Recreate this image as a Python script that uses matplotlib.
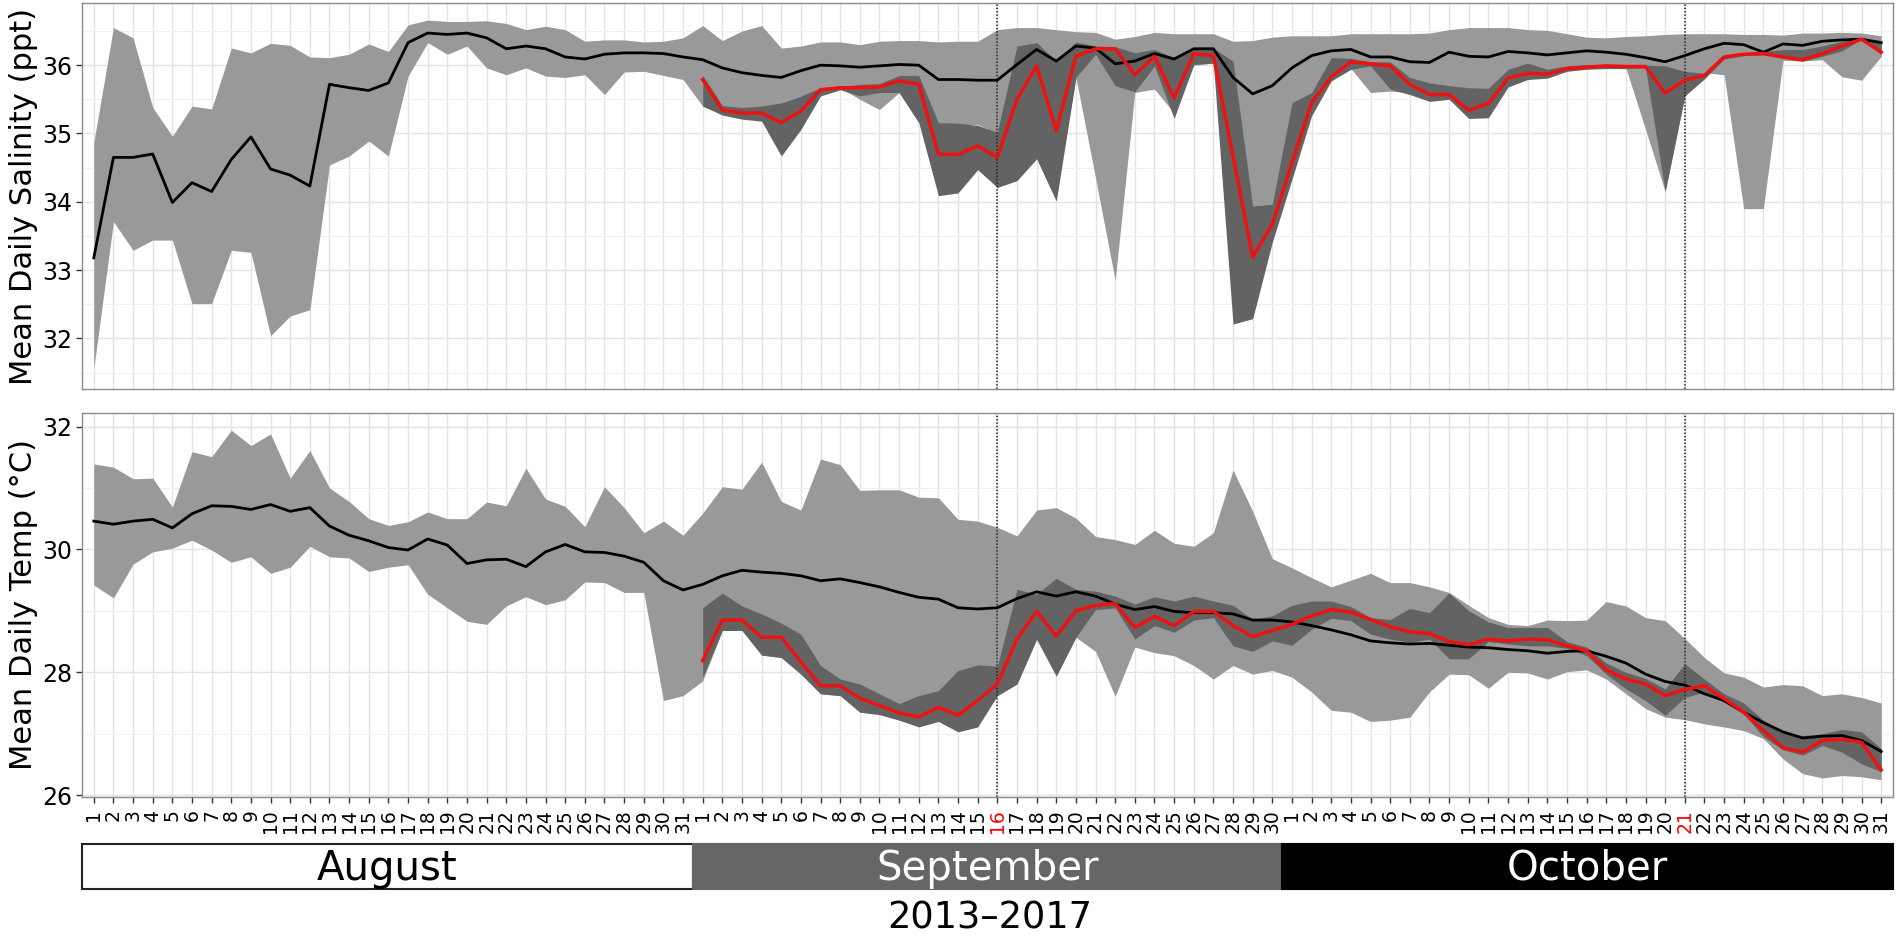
import numpy as np
import matplotlib.pyplot as plt
from matplotlib.patches import Rectangle
from matplotlib.ticker import MultipleLocator

# ---- categories -------------------------------------------------------
month_names = ['August', 'September', 'October']
month_days = [31, 30, 31]
day_labels = [str(d) for n in month_days for d in range(1, n + 1)]
highlight_days = [46, 81]          # Sep 16 and Oct 21 (index in day_labels)

# ---- salinity (ppt), 1 Aug - 31 Oct, 2013-2017 climatology --------------
sal_mean = [
    33.18, 34.65, 34.65, 34.70, 33.99, 34.28, 34.15, 34.62, 34.95, 34.48, 34.39, 34.23,
    35.72, 35.67, 35.63, 35.74, 36.33, 36.47, 36.45, 36.47, 36.40, 36.24, 36.28, 36.24,
    36.12, 36.09, 36.16, 36.18, 36.18, 36.17, 36.12,
    36.08, 35.96, 35.89, 35.85, 35.82, 35.92, 36.00, 35.99, 35.97, 35.99, 36.01, 36.00,
    35.79, 35.79, 35.78, 35.78, 36.01, 36.23, 36.06, 36.28, 36.25, 36.02, 36.06, 36.17,
    36.09, 36.24, 36.24, 35.82, 35.58, 35.70,
    35.96, 36.14, 36.21, 36.23, 36.12, 36.12, 36.05, 36.04, 36.19, 36.13, 36.12, 36.20,
    36.18, 36.15, 36.18, 36.21, 36.19, 36.16, 36.11, 36.05, 36.14, 36.24, 36.32, 36.30,
    36.19, 36.31, 36.29, 36.35, 36.37, 36.38, 36.33]
sal_max = [
    34.87, 36.55, 36.40, 35.38, 34.96, 35.40, 35.36, 36.25, 36.18, 36.32, 36.29, 36.12,
    36.11, 36.16, 36.31, 36.20, 36.59, 36.66, 36.64, 36.64, 36.65, 36.61, 36.52, 36.57,
    36.52, 36.35, 36.37, 36.37, 36.34, 36.35, 36.40,
    36.58, 36.36, 36.50, 36.58, 36.25, 36.28, 36.34, 36.34, 36.30, 36.35, 36.36, 36.36,
    36.34, 36.35, 36.35, 36.52, 36.55, 36.55, 36.52, 36.49, 36.48, 36.38, 36.42, 36.48,
    36.46, 36.46, 36.46, 36.35, 36.36, 36.41,
    36.43, 36.43, 36.43, 36.46, 36.46, 36.46, 36.46, 36.47, 36.52, 36.55, 36.55, 36.55,
    36.52, 36.51, 36.46, 36.41, 36.40, 36.42, 36.43, 36.45, 36.46, 36.46, 36.46, 36.45,
    36.45, 36.44, 36.47, 36.47, 36.48, 36.47, 36.43]
sal_min = [
    31.56, 33.71, 33.29, 33.44, 33.44, 32.51, 32.51, 33.29, 33.26, 32.04, 32.33, 32.42,
    34.54, 34.67, 34.89, 34.67, 35.84, 36.33, 36.16, 36.28, 35.96, 35.86, 35.96, 35.84,
    35.82, 35.86, 35.57, 35.90, 35.91, 35.85, 35.79,
    35.40, 35.30, 35.28, 35.38, 35.45, 35.55, 35.62, 35.67, 35.50, 35.35, 35.60, 35.16,
    35.16, 35.13, 35.13, 35.01, 34.40, 34.70, 34.10, 35.82, 34.35, 32.85, 35.60, 35.65,
    35.30, 36.00, 36.03, 34.50, 33.94, 33.97,
    34.50, 35.30, 35.80, 35.95, 35.60, 35.62, 35.60, 35.50, 35.55, 35.25, 35.25, 35.70,
    35.80, 35.82, 35.92, 35.95, 35.97, 35.96, 35.06, 34.15, 35.55, 35.89, 35.86, 33.90,
    33.90, 36.07, 36.06, 36.08, 35.83, 35.78, 36.13]

# ---- salinity 2018, 1 Sep - 31 Oct --------------------------------------
sal_2018 = [
    35.79, 35.34, 35.30, 35.30, 35.16, 35.33, 35.64, 35.67, 35.67, 35.68, 35.77, 35.72,
    34.70, 34.69, 34.82, 34.65, 35.50, 35.99, 35.04, 36.13, 36.24, 36.24, 35.86, 36.13,
    35.52, 36.17, 36.14, 34.67, 33.19, 33.67,
    34.57, 35.45, 35.83, 36.05, 36.02, 35.99, 35.72, 35.57, 35.57, 35.34, 35.44, 35.81,
    35.88, 35.87, 35.95, 35.97, 35.99, 35.98, 35.98, 35.59, 35.78, 35.85, 36.12, 36.16,
    36.17, 36.12, 36.08, 36.17, 36.28, 36.38, 36.19]
sal_2018_max = [
    35.85, 35.41, 35.38, 35.40, 35.45, 35.55, 35.67, 35.68, 35.72, 35.73, 35.85, 35.85,
    35.16, 35.15, 35.12, 35.02, 36.28, 36.33, 36.06, 36.34, 36.28, 36.27, 36.18, 36.23,
    36.11, 36.25, 36.25, 36.06, 33.94, 33.97,
    35.45, 35.60, 36.11, 36.10, 36.05, 36.05, 35.82, 35.74, 35.70, 35.67, 35.66, 35.94,
    36.03, 35.94, 35.99, 36.01, 36.01, 36.01, 36.00, 35.99, 35.91, 35.88, 36.14, 36.18,
    36.20, 36.23, 36.23, 36.28, 36.35, 36.40, 36.35]
sal_2018_min = [
    35.40, 35.27, 35.21, 35.18, 34.67, 35.06, 35.55, 35.64, 35.55, 35.60, 35.60, 35.16,
    34.09, 34.13, 34.47, 34.21, 34.31, 34.63, 34.01, 35.82, 36.16, 35.70, 35.61, 35.99,
    35.22, 36.01, 36.03, 32.21, 32.29, 33.41,
    34.33, 35.26, 35.77, 35.94, 35.99, 35.65, 35.57, 35.47, 35.50, 35.22, 35.23, 35.68,
    35.79, 35.81, 35.91, 35.94, 35.95, 35.95, 35.96, 34.15, 35.55, 35.80, 36.09, 36.14,
    36.15, 36.10, 36.06, 36.13, 36.21, 36.38, 36.16]

# ---- temperature (deg C), 1 Aug - 31 Oct, 2013-2017 ---------------------
temp_mean = [
    30.46, 30.41, 30.46, 30.49, 30.35, 30.58, 30.71, 30.70, 30.65, 30.73, 30.62, 30.68,
    30.38, 30.23, 30.14, 30.03, 29.99, 30.17, 30.07, 29.77, 29.83, 29.84, 29.72, 29.96,
    30.08, 29.96, 29.95, 29.89, 29.79, 29.49, 29.34,
    29.43, 29.57, 29.66, 29.63, 29.61, 29.57, 29.49, 29.52, 29.46, 29.39, 29.30, 29.22,
    29.19, 29.05, 29.03, 29.05, 29.20, 29.31, 29.24, 29.31, 29.24, 29.11, 29.02, 29.07,
    28.99, 28.97, 28.97, 28.95, 28.85, 28.85,
    28.82, 28.76, 28.69, 28.61, 28.51, 28.48, 28.46, 28.47, 28.44, 28.41, 28.40, 28.37,
    28.35, 28.31, 28.34, 28.35, 28.26, 28.15, 27.97, 27.85, 27.79, 27.65, 27.54, 27.35,
    27.18, 27.03, 26.93, 26.96, 26.97, 26.89, 26.71]
temp_max = [
    31.39, 31.34, 31.15, 31.16, 30.69, 31.59, 31.51, 31.94, 31.69, 31.88, 31.16, 31.61,
    31.00, 30.78, 30.50, 30.39, 30.45, 30.61, 30.50, 30.50, 30.77, 30.71, 31.32, 30.82,
    30.70, 30.37, 31.02, 30.68, 30.27, 30.46, 30.23,
    30.59, 31.02, 30.98, 31.42, 30.78, 30.64, 31.47, 31.38, 30.96, 30.97, 30.97, 30.85,
    30.84, 30.49, 30.46, 30.36, 30.22, 30.64, 30.68, 30.51, 30.21, 30.16, 30.08, 30.31,
    30.10, 30.05, 30.27, 31.29, 30.62, 29.85,
    29.70, 29.54, 29.39, 29.50, 29.61, 29.46, 29.46, 29.39, 29.30, 29.09, 28.89, 28.78,
    28.76, 28.85, 28.84, 28.85, 29.15, 29.08, 28.89, 28.84, 28.55, 28.24, 27.99, 27.92,
    27.76, 27.80, 27.78, 27.62, 27.65, 27.59, 27.50]
temp_min = [
    29.42, 29.21, 29.76, 29.96, 30.02, 30.15, 29.99, 29.79, 29.88, 29.61, 29.71, 30.05,
    29.88, 29.86, 29.64, 29.71, 29.75, 29.27, 29.05, 28.83, 28.78, 29.08, 29.23, 29.10,
    29.18, 29.47, 29.46, 29.30, 29.30, 27.54, 27.62,
    27.86, 28.68, 28.68, 28.28, 28.24, 27.97, 27.65, 27.62, 27.35, 27.40, 27.49, 27.15,
    27.25, 27.10, 27.15, 27.62, 27.81, 28.54, 27.94, 28.57, 28.34, 27.61, 28.41, 28.32,
    28.27, 28.11, 27.89, 28.11, 27.97, 28.03,
    27.92, 27.68, 27.38, 27.35, 27.20, 27.22, 27.27, 27.68, 27.97, 27.96, 27.74, 28.00,
    27.99, 27.89, 28.01, 28.04, 27.89, 27.65, 27.41, 27.27, 27.23, 27.16, 27.11, 27.05,
    26.92, 26.59, 26.35, 26.28, 26.32, 26.30, 26.25]

# ---- temperature 2018, 1 Sep - 31 Oct -----------------------------------
temp_2018 = [
    28.19, 28.85, 28.85, 28.57, 28.57, 28.17, 27.78, 27.78, 27.58, 27.46, 27.34, 27.27,
    27.43, 27.30, 27.54, 27.81, 28.54, 28.99, 28.59, 29.00, 29.09, 29.12, 28.73, 28.91,
    28.76, 28.99, 28.99, 28.76, 28.58, 28.68,
    28.78, 28.92, 29.02, 28.98, 28.86, 28.74, 28.66, 28.63, 28.50, 28.45, 28.54, 28.51,
    28.54, 28.53, 28.43, 28.35, 28.04, 27.89, 27.81, 27.62, 27.72, 27.78, 27.57, 27.35,
    27.05, 26.77, 26.70, 26.89, 26.91, 26.86, 26.41]
temp_2018_max = [
    29.05, 29.29, 29.08, 28.95, 28.80, 28.62, 28.11, 27.89, 27.81, 27.65, 27.49, 27.62,
    27.70, 28.03, 28.12, 28.10, 29.35, 29.27, 29.53, 29.35, 29.32, 29.24, 29.11, 29.23,
    29.16, 29.24, 29.16, 29.09, 28.86, 28.92,
    29.09, 29.16, 29.16, 29.07, 28.89, 28.86, 29.04, 28.97, 29.29, 29.00, 28.82, 28.73,
    28.73, 28.73, 28.50, 28.41, 28.15, 28.00, 27.90, 27.73, 28.14, 27.89, 27.65, 27.50,
    27.22, 27.03, 26.97, 27.00, 27.07, 27.03, 26.76]
temp_2018_min = [
    27.92, 28.68, 28.68, 28.28, 28.24, 27.97, 27.65, 27.62, 27.35, 27.31, 27.22, 27.11,
    27.20, 27.03, 27.11, 27.62, 27.81, 28.54, 27.94, 28.57, 29.02, 29.05, 28.54, 28.76,
    28.65, 28.85, 28.89, 28.43, 28.34, 28.51,
    28.44, 28.70, 28.88, 28.84, 28.62, 28.54, 28.49, 28.54, 28.22, 28.22, 28.50, 28.46,
    28.43, 28.43, 28.39, 28.27, 27.97, 27.73, 27.54, 27.30, 27.59, 27.68, 27.51, 27.32,
    26.95, 26.74, 26.65, 26.81, 26.70, 26.51, 26.38]

LIGHT = '#999999'
DARK = '#636363'
GRID = '#e4e4e4'
W, H = 1900, 936

x = np.arange(len(day_labels))
x18 = np.arange(month_days[0], len(day_labels))
xlim = (-0.6, len(day_labels) - 0.4)

fig = plt.figure(figsize=(W / 100, H / 100), dpi=100)
plt.rcParams['font.family'] = 'DejaVu Sans'


def px_axes(left, top, right, bottom):
    return fig.add_axes([left / W, 1 - bottom / H, (right - left) / W, (bottom - top) / H])


def draw_panel(ax, lo, hi, mean, lo18, hi18, val18, ylim, major, minor):
    ax.fill_between(x, lo, hi, color=LIGHT, lw=0, zorder=1)
    ax.fill_between(x18, lo18, hi18, color=DARK, lw=0, zorder=2)
    for d in highlight_days:
        ax.axvline(d, color='#222222', ls=(0, (1, 1.2)), lw=1.1, zorder=2.5)
    ax.plot(x, mean, color='black', lw=2.0, zorder=3)
    ax.plot(x18, val18, color='#ee1111', lw=2.5, zorder=4)
    ax.set_xlim(*xlim)
    ax.set_ylim(*ylim)
    ax.set_xticks(x)
    ax.yaxis.set_major_locator(MultipleLocator(major))
    ax.yaxis.set_minor_locator(MultipleLocator(minor))
    ax.grid(True, which='major', color=GRID, lw=1.0)
    ax.grid(True, which='minor', axis='y', color='#efefef', lw=0.8)
    ax.set_axisbelow(True)
    for s in ax.spines.values():
        s.set_color('#8a8a8a')
        s.set_linewidth(1.0)
    ax.tick_params(axis='y', which='major', labelsize=17, length=4, width=1,
                   color='#333333', pad=3)
    ax.tick_params(axis='y', which='minor', length=0)


# salinity panel
ax1 = px_axes(82, 3, 1893, 389)
draw_panel(ax1, sal_min, sal_max, sal_mean, sal_2018_min, sal_2018_max, sal_2018,
           (31.26, 36.91), 1, 0.5)
ax1.tick_params(axis='x', length=0, labelbottom=False)

# temperature panel
ax2 = px_axes(82, 413, 1893, 797)
draw_panel(ax2, temp_min, temp_max, temp_mean, temp_2018_min, temp_2018_max, temp_2018,
           (25.97, 32.22), 2, 1)
ax2.set_xticklabels(day_labels, rotation=90, fontsize=13.5)
ax2.tick_params(axis='x', length=4, width=1, color='#333333', pad=5)
for i, lab in enumerate(ax2.get_xticklabels()):
    if i in highlight_days:
        lab.set_color('red')

fig.text(24 / W, 1 - 196 / H, 'Mean Daily Salinity (ppt)', rotation=90,
         ha='center', va='center', fontsize=22)
fig.text(24 / W, 1 - 605 / H, 'Mean Daily Temp (°C)', rotation=90,
         ha='center', va='center', fontsize=22)

# month strip
axm = px_axes(82, 844, 1893, 889)
axm.set_xlim(*xlim)
axm.set_ylim(0, 1)
axm.axis('off')
fills = ['white', '#666666', 'black']
text_cols = ['black', 'white', 'white']
start = xlim[0]
edges = np.cumsum(month_days) - 0.5
for k, name in enumerate(month_names):
    end = edges[k] if k < len(month_names) - 1 else xlim[1]
    axm.add_patch(Rectangle((start, 0), end - start, 1, facecolor=fills[k],
                            edgecolor='#222222' if k == 0 else fills[k], lw=1.5,
                            clip_on=False))
    axm.text((start + end) / 2, 0.45, name, ha='center', va='center',
             fontsize=29, color=text_cols[k])
    start = end

fig.text(990 / W, 1 - 918 / H, '2013\u20132017', ha='center', va='center', fontsize=26.5)

fig.savefig('out.png', dpi=100)
